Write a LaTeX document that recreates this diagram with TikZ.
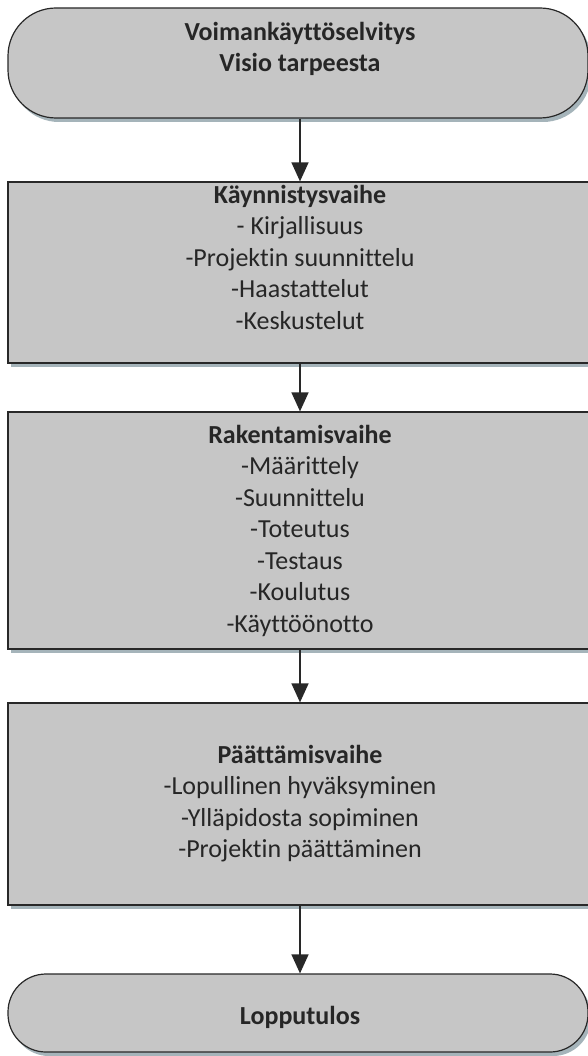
\documentclass[tikz,border=0pt]{standalone}
\usepackage{fontspec}
\setmainfont{Carlito}[Ligatures={NoCommon}]
\usetikzlibrary{arrows.meta,shadows}

\definecolor{laatikko}{RGB}{198,198,198}
\definecolor{varjo}{RGB}{165,180,186}
\definecolor{reuna}{RGB}{40,40,40}

\tikzset{
  vaihe/.style={draw=reuna, line width=1.2pt, fill=laatikko, inner sep=0pt,
    drop shadow={shadow xshift=3pt, shadow yshift=-4pt, fill=varjo, opacity=1}},
  paate/.style={vaihe, rounded corners=48pt},
  teksti/.style={align=center, inner sep=0pt, text=black!85,
    font=\fontsize{26pt}{31.5pt}\selectfont},
  nuoli/.style={line width=1.4pt, draw=reuna, -{Triangle[width=17pt,length=19pt]}}
}

\begin{document}
\begin{tikzpicture}[x=1pt,y=-1pt]
\useasboundingbox (0,0) rectangle (587,1056);

% laatikot
\node[paate, minimum width=580pt, minimum height=110pt] (alku) at (298,63) {};
\node[vaihe, minimum width=584pt, minimum height=181pt] (kaynnistys) at (300,272.5) {};
\node[vaihe, minimum width=584pt, minimum height=237pt] (rakentaminen) at (300,530.5) {};
\node[vaihe, minimum width=584pt, minimum height=202pt] (paattaminen) at (300,804) {};
\node[paate, rounded corners=38pt, minimum width=580pt, minimum height=78pt] (loppu) at (298,1013) {};

% tekstit
\node[teksti] (alku-t) at (300,49) {\textbf{Voimankäyttöselvitys}\\\textbf{Visio tarpeesta}};
\node[teksti] (kaynnistys-t) at (300,257) {\textbf{Käynnistysvaihe}\\- Kirjallisuus\\-Projektin suunnittelu\\-Haastattelut\\-Keskustelut};
\node[teksti] (rakentaminen-t) at (300,530.5) {\textbf{Rakentamisvaihe}\\-Määrittely\\-Suunnittelu\\-Toteutus\\-Testaus\\-Koulutus\\-Käyttöönotto};
\node[teksti] (paattaminen-t) at (300,803.5) {\textbf{Päättämisvaihe}\\-Lopullinen hyväksyminen\\-Ylläpidosta sopiminen\\-Projektin päättäminen};
\node[teksti] (loppu-t) at (300,1017) {\textbf{Lopputulos}};

% nuolet
\draw[nuoli] (alku.south -| kaynnistys.north) -- (kaynnistys.north);
\draw[nuoli] (kaynnistys.south) -- (rakentaminen.north);
\draw[nuoli] (rakentaminen.south) -- (paattaminen.north);
\draw[nuoli] (paattaminen.south) -- (loppu.north -| paattaminen.south);
\end{tikzpicture}
\end{document}
